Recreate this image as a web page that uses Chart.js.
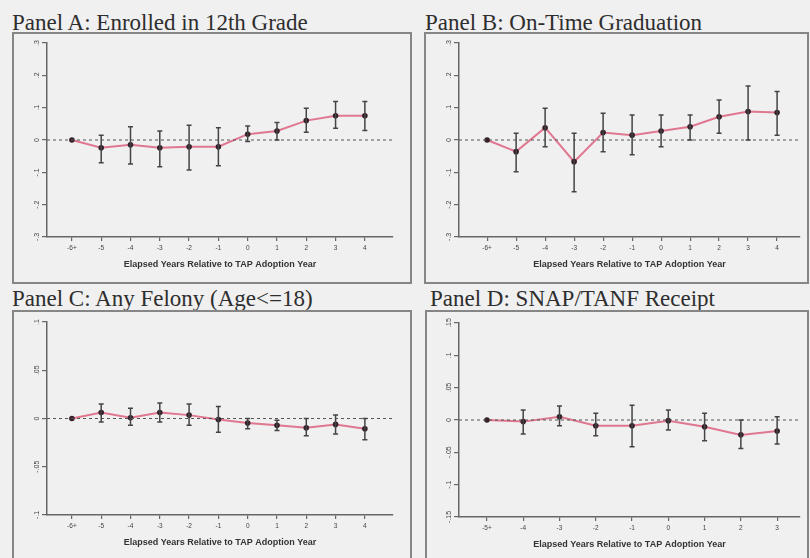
<!DOCTYPE html>
<html>
<head>
<meta charset="utf-8">
<script src="https://cdn.jsdelivr.net/npm/chart.js@4.4.0/dist/chart.umd.min.js"></script>
<style>
  html, body { margin: 0; padding: 0; background: #f0f0f0; width: 810px; height: 558px; overflow: hidden; }
  .title { position: absolute; font-family: "Liberation Serif", serif; font-size: 23px; color: #2e2e2e; white-space: nowrap; line-height: 1; }
  .box { position: absolute; border: 2px solid #868686; box-sizing: border-box; }
  .box canvas { position: absolute; left: 0; top: 0; }
</style>
</head>
<body>
<script>
// event-time categories
const yearsLong = ["-6+", "-5", "-4", "-3", "-2", "-1", "0", "1", "2", "3", "4"];
const yearsShort = ["-5+", "-4", "-3", "-2", "-1", "0", "1", "2", "3"];

// y-axis ticks (ascending) and their labels
const ticksWide = [-0.3, -0.2, -0.1, 0, 0.1, 0.2, 0.3];
const labelsWide = ["-.3", "-.2", "-.1", "0", ".1", ".2", ".3"];
const ticksFelony = [-0.1, -0.05, 0, 0.05, 0.1];
const labelsFelony = ["-.1", "-.05", "0", ".05", ".1"];
const ticksSnap = [-0.15, -0.1, -0.05, 0, 0.05, 0.1, 0.15];
const labelsSnap = ["-.15", "-.1", "-.05", "0", ".05", ".1", ".15"];

// Panel A: enrolled in 12th grade
const enrollEst = [0, -0.024, -0.015, -0.024, -0.021, -0.021, 0.018, 0.028, 0.060, 0.075, 0.075];
const enrollLo  = [null, -0.070, -0.074, -0.083, -0.093, -0.080, -0.005, 0.000, 0.024, 0.036, 0.029];
const enrollHi  = [null, 0.015, 0.041, 0.028, 0.046, 0.038, 0.043, 0.054, 0.098, 0.119, 0.119];

// Panel B: on-time graduation
const gradEst = [0, -0.036, 0.038, -0.067, 0.023, 0.015, 0.028, 0.041, 0.072, 0.088, 0.085];
const gradLo  = [null, -0.098, -0.021, -0.160, -0.036, -0.046, -0.021, 0.000, 0.021, 0.000, 0.015];
const gradHi  = [null, 0.021, 0.098, 0.021, 0.083, 0.077, 0.077, 0.077, 0.124, 0.167, 0.150];

// Panel C: any felony (age <= 18)
const felonyEst = [0, 0.0061, 0.0007, 0.0061, 0.0035, -0.0011, -0.0046, -0.0071, -0.0096, -0.0061, -0.0106];
const felonyLo  = [null, -0.0035, -0.0071, -0.0035, -0.0071, -0.0142, -0.0106, -0.0124, -0.0178, -0.0160, -0.0220];
const felonyHi  = [null, 0.0149, 0.0106, 0.0160, 0.0149, 0.0124, 0.0000, -0.0018, 0.0000, 0.0035, 0.0000];

// Panel D: SNAP/TANF receipt
const snapEst = [0, -0.0025, 0.0050, -0.0090, -0.0090, -0.0010, -0.0105, -0.0230, -0.0170];
const snapLo  = [null, -0.0215, -0.0090, -0.0245, -0.0415, -0.0155, -0.0320, -0.0440, -0.0370];
const snapHi  = [null, 0.0155, 0.0215, 0.0105, 0.0230, 0.0155, 0.0105, 0.0000, 0.0050];

const xTitle = "Elapsed Years Relative to TAP Adoption Year";

const panels = [
  { title: "Panel A: Enrolled in 12th Grade", titleAt: [12, 11],
    box: [12, 32, 412, 284], plot: [47, 43, 393, 237], xRange: [-0.85, 10.96],
    cats: yearsLong, est: enrollEst, lo: enrollLo, hi: enrollHi, yTicks: ticksWide, yLabels: labelsWide },
  { title: "Panel B: On-Time Graduation", titleAt: [425, 11],
    box: [424, 32, 809, 284], plot: [459, 43, 800, 237], xRange: [-0.97, 10.79],
    cats: yearsLong, est: gradEst, lo: gradLo, hi: gradHi, yTicks: ticksWide, yLabels: labelsWide },
  { title: "Panel C: Any Felony (Age<=18)", titleAt: [12, 287],
    box: [12, 310, 412, 570], plot: [47, 322, 393, 515], xRange: [-0.85, 10.96],
    cats: yearsLong, est: felonyEst, lo: felonyLo, hi: felonyHi, yTicks: ticksFelony, yLabels: labelsFelony },
  { title: "Panel D: SNAP/TANF Receipt", titleAt: [430, 287],
    box: [425, 310, 809, 570], plot: [459, 323, 800, 517], xRange: [-0.77, 8.63],
    cats: yearsShort, est: snapEst, lo: snapLo, hi: snapHi, yTicks: ticksSnap, yLabels: labelsSnap },
];

// vertical CI bars with caps
const errorBars = {
  id: "errorBars",
  afterDatasetsDraw(chart, args, opts) {
    const { x, y } = chart.scales;
    const ctx = chart.ctx;
    ctx.save();
    ctx.strokeStyle = "#444";
    ctx.lineWidth = 1.5;
    opts.lo.forEach((lo, i) => {
      const hi = opts.hi[i];
      if (lo == null || hi == null) return;
      const px = x.getPixelForValue(i);
      const y1 = y.getPixelForValue(lo), y2 = y.getPixelForValue(hi);
      ctx.beginPath();
      ctx.moveTo(px, y1); ctx.lineTo(px, y2);
      ctx.moveTo(px - 2.5, y1); ctx.lineTo(px + 2.5, y1);
      ctx.moveTo(px - 2.5, y2); ctx.lineTo(px + 2.5, y2);
      ctx.stroke();
    });
    ctx.restore();
  },
};

// Stata-style y labels, turned 90 degrees
const rotatedYLabels = {
  id: "rotatedYLabels",
  afterDraw(chart, args, opts) {
    const y = chart.scales.y;
    const ctx = chart.ctx;
    ctx.save();
    ctx.fillStyle = "#444";
    ctx.font = '7px "Liberation Sans", sans-serif';
    ctx.textAlign = "center";
    ctx.textBaseline = "middle";
    y.ticks.forEach((t, i) => {
      ctx.save();
      ctx.translate(y.right - 10, y.getPixelForValue(t.value));
      ctx.rotate(-Math.PI / 2);
      ctx.fillText(opts.labels[i], 0, 0);
      ctx.restore();
    });
    ctx.restore();
  },
};

for (const p of panels) {
  const t = document.createElement("div");
  t.className = "title";
  t.textContent = p.title;
  t.style.left = p.titleAt[0] + "px";
  t.style.top = p.titleAt[1] + "px";
  document.body.appendChild(t);

  const [bl, bt, br, bb] = p.box;
  const box = document.createElement("div");
  box.className = "box";
  Object.assign(box.style, { left: bl + "px", top: bt + "px", width: (br - bl) + "px", height: (bb - bt) + "px" });
  document.body.appendChild(box);

  const inner = { l: bl + 2, t: bt + 2, r: br - 2, b: bb - 2 };
  const canvas = document.createElement("canvas");
  canvas.width = inner.r - inner.l;
  canvas.height = inner.b - inner.t;
  box.appendChild(canvas);

  const [pl, pt, pr, pb] = p.plot;
  const xHeight = inner.b - pb;
  const xTitleSize = 9;

  new Chart(canvas.getContext("2d"), {
    type: "line",
    data: {
      datasets: [
        {
          data: [{ x: p.xRange[0], y: 0 }, { x: p.xRange[1], y: 0 }],
          borderColor: "#555", borderWidth: 1, borderDash: [3, 3], pointRadius: 0,
        },
        {
          data: p.est.map((v, i) => ({ x: i, y: v })),
          borderColor: "#e07790", borderWidth: 2, tension: 0,
          pointRadius: 2.8, pointBackgroundColor: "#35202a", pointBorderColor: "#35202a", pointBorderWidth: 0,
        },
      ],
    },
    options: {
      animation: false,
      responsive: false,
      maintainAspectRatio: false,
      layout: { padding: { left: 0, top: pt - inner.t, right: inner.r - pr, bottom: 0 } },
      plugins: {
        legend: { display: false },
        tooltip: { enabled: false },
        errorBars: { lo: p.lo, hi: p.hi },
        rotatedYLabels: { labels: p.yLabels },
      },
      scales: {
        x: {
          type: "linear",
          min: p.xRange[0], max: p.xRange[1],
          afterBuildTicks: s => { s.ticks = p.cats.map((_, i) => ({ value: i })); },
          afterFit: s => { s.height = xHeight; },
          border: { color: "#666", width: 1.5 },
          grid: { drawOnChartArea: false, drawTicks: true, tickLength: 4, color: "#666", lineWidth: 1.2 },
          ticks: {
            color: "#444", padding: 3, maxRotation: 0, autoSkip: false,
            font: { size: 6.5, family: '"Liberation Sans", sans-serif' },
            callback: (v, i) => p.cats[i],
          },
          title: {
            display: true, text: xTitle, color: "#333",
            font: { size: xTitleSize, weight: "bold", family: '"Liberation Sans", sans-serif' },
            padding: { top: 0, bottom: xHeight - 28 - xTitleSize * 0.6 },
          },
        },
        y: {
          type: "linear",
          min: p.yTicks[0], max: p.yTicks[p.yTicks.length - 1],
          afterBuildTicks: s => { s.ticks = p.yTicks.map(v => ({ value: v })); },
          afterFit: s => { s.width = pl - inner.l; },
          border: { color: "#666", width: 1.5 },
          grid: { drawOnChartArea: false, drawTicks: true, tickLength: 5, color: "#666", lineWidth: 1.2 },
          ticks: { display: false },
        },
      },
    },
    plugins: [errorBars, rotatedYLabels],
  });
}
</script>
</body>
</html>
